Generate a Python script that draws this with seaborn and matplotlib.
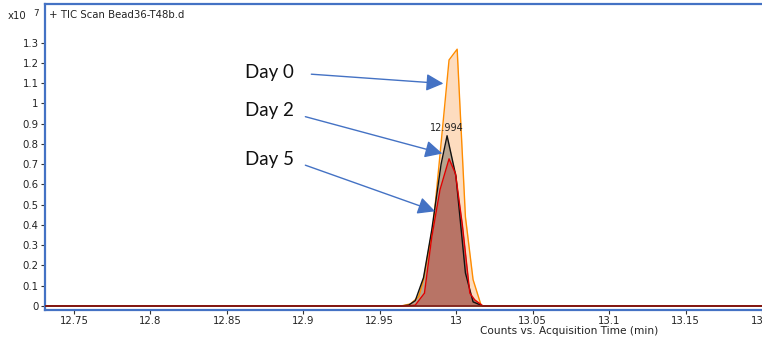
import matplotlib
matplotlib.use("Agg")
import matplotlib.pyplot as plt
import seaborn as sns
import pandas as pd
import numpy as np

# ---- data (counts x10^7 vs acquisition time, min) ----
day0_time = [12.730, 12.9640, 12.9700, 12.9755, 12.9786, 12.9851, 12.9953, 13.0006, 13.0060, 13.0110, 13.0164, 13.0220, 13.200]
day0_vals = [0.0,    0.0,     0.01,    0.046,   0.13,    0.41,    1.214,   1.267,   0.44,    0.13,    0.0,     0.0,     0.0]

day2_time = [12.730, 12.9640, 12.9689, 12.9732, 12.9786, 12.9840, 12.9901, 12.9940, 12.9998, 13.0060, 13.0110, 13.0175, 13.200]
day2_vals = [0.0,    0.0,     0.004,   0.026,   0.14,    0.376,   0.70,    0.84,    0.64,    0.163,   0.02,    0.0,     0.0]

day5_time = [12.730, 12.9680, 12.9732, 12.9792, 12.9840, 12.9894, 12.9953, 12.9995, 13.0040, 13.0089, 13.0121, 13.0175, 13.200]
day5_vals = [0.0,    0.0,     0.004,   0.063,   0.34,    0.574,   0.726,   0.653,   0.40,    0.063,   0.03,    0.0,     0.0]

series_names = ["Day 0", "Day 2", "Day 5"]
peak_label = "12.994"
peak_time = 12.994
peak_val = 0.84
title = "+ TIC Scan Bead36-T48b.d"
xlabel = "Counts vs. Acquisition Time (min)"
xticks = [12.75, 12.8, 12.85, 12.9, 12.95, 13.0, 13.05, 13.1, 13.15, 13.2]
xtick_labels = ["12.75", "12.8", "12.85", "12.9", "12.95", "13", "13.05", "13.1", "13.15", "13.2"]
yticks = [0, 0.1, 0.2, 0.3, 0.4, 0.5, 0.6, 0.7, 0.8, 0.9, 1.0, 1.1, 1.2, 1.3]
ytick_labels = ["0", "0.1", "0.2", "0.3", "0.4", "0.5", "0.6", "0.7", "0.8", "0.9", "1", "1.1", "1.2", "1.3"]

# annotation arrows: (text pos, arrow start, arrow tip)
ann_text = [(12.8617, 1.153), (12.8617, 0.965), (12.8617, 0.723)]
ann_start = [(12.9052, 1.1436), (12.9013, 0.934), (12.9013, 0.6946)]
ann_tip = [(12.9916, 1.0975), (12.9909, 0.752), (12.9862, 0.467)]

df = pd.concat([
    pd.DataFrame({"time": day0_time, "counts": day0_vals, "series": "Day 0"}),
    pd.DataFrame({"time": day2_time, "counts": day2_vals, "series": "Day 2"}),
    pd.DataFrame({"time": day5_time, "counts": day5_vals, "series": "Day 5"}),
])

sns.set_style("white")
plt.rcParams["font.family"] = ["DejaVu Sans"]

fig = plt.figure(figsize=(7.62, 3.39), dpi=100)
ax = fig.add_axes([45/762, 1 - 310/339, 1 - 45/762, (310 - 4)/339])

line_cols = {"Day 0": "#ff8c00", "Day 2": "#111111", "Day 5": "#e00000"}
fill_cols = {"Day 0": "#fddcbf", "Day 2": "#b9a48e", "Day 5": "#b87466"}

for name in series_names:
    sub = df[df["series"] == name]
    ax.fill_between(sub["time"], 0, sub["counts"], color=fill_cols[name], lw=0, zorder=1)
    sns.lineplot(data=sub, x="time", y="counts", color=line_cols[name], lw=1.0,
                 ax=ax, estimator=None, sort=False, zorder=2)

# baseline drawn in dark red on top
ax.plot([day5_time[0], day5_time[-1]], [0, 0], color="#7a1a14", lw=1.2, zorder=3)

ax.set_xlim(12.731, 13.197)
ax.set_ylim(-0.02, 1.49)
ax.set_xticks(xticks)
ax.set_xticklabels(xtick_labels, fontsize=7.3, color="#222222")
ax.set_yticks(yticks)
ax.set_yticklabels(ytick_labels, fontsize=7.3, color="#222222")
ax.tick_params(axis="both", direction="out", length=3, width=0.8, color="#333333", pad=1.5, bottom=True, left=True)
ax.set_xlabel("")
ax.set_ylabel("")

for s in ["left", "top", "bottom"]:
    ax.spines[s].set_color("#4472c4")
    ax.spines[s].set_linewidth(1.6)
ax.spines["right"].set_visible(False)

# peak label
ax.text(peak_time, peak_val + 0.012, peak_label, ha="center", va="bottom", fontsize=7, color="#222222")

# annotations
for name, tpos, spos, tip in zip(series_names, ann_text, ann_start, ann_tip):
    ax.text(tpos[0], tpos[1], name, ha="left", va="center", fontsize=13.5,
            family=["Lato", "DejaVu Sans"], color="#111111")
    ax.annotate("", xy=tip, xytext=spos,
                arrowprops=dict(arrowstyle="-|>,head_length=0.7,head_width=0.35", color="#4472c4", lw=1.0,
                                mutation_scale=15, shrinkA=0, shrinkB=0), zorder=5)

fig.text(49/762, 1 - 15/339, title, ha="left", va="center", fontsize=7.3, color="#222222")
fig.text(8/762, 1 - 16/339, "x10", ha="left", va="center", fontsize=7.3, color="#222222")
fig.text(33/762, 1 - 13/339, "7", ha="left", va="center", fontsize=6.3, color="#222222")
fig.text(569/762, 1 - 331/339, xlabel, ha="center", va="center", fontsize=7.6, color="#222222")

fig.savefig("out.png", dpi=100)
